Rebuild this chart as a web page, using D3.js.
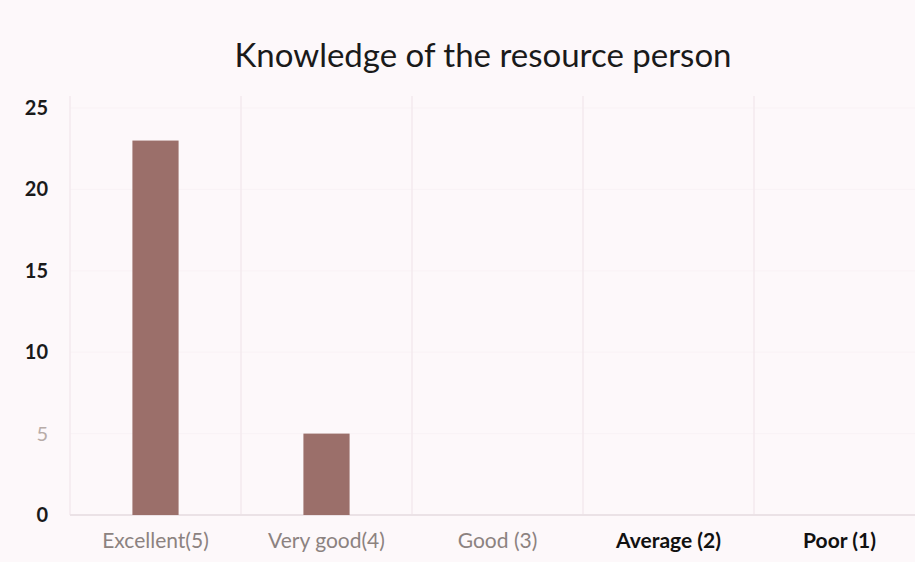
<!DOCTYPE html>
<html>
<head>
<meta charset="utf-8">
<script src="https://cdn.jsdelivr.net/npm/d3@7"></script>
<style>
  html, body { margin: 0; padding: 0; background: #fdf8fa; }
  svg { display: block; }
</style>
</head>
<body>
<svg id="chart" width="915" height="562"></svg>
<script>
const categories = ["Excellent(5)", "Very good(4)", "Good (3)", "Average (2)", "Poor (1)"];
const values = [23, 5, 0, 0, 0];
const yTicks = [0, 5, 10, 15, 20, 25];
const title = "Knowledge of the resource person";
const labelStyle = ["light", "light", "light", "bold", "bold"];

const svg = d3.select("#chart");
const W = 915, H = 562;
svg.append("rect").attr("width", W).attr("height", H).attr("fill", "#fdf8fa");

const x = d3.scaleBand().domain(categories).range([70, 925])
  .paddingInner(0.73).paddingOuter(0.365);
const y = d3.scaleLinear().domain([0, 25]).range([515, 108]);

// horizontal very faint gridlines
svg.append("g").selectAll("line").data(yTicks.slice(1)).join("line")
  .attr("x1", 70).attr("x2", 915)
  .attr("y1", d => y(d)).attr("y2", d => y(d))
  .attr("stroke", "#f9f2f5").attr("stroke-width", 1);

// vertical faint category boundaries
const step = x.step();
svg.append("g").selectAll("line").data(categories).join("line")
  .attr("x1", d => x(d) + x.bandwidth() / 2 - step / 2)
  .attr("x2", d => x(d) + x.bandwidth() / 2 - step / 2)
  .attr("y1", y(25) - 12).attr("y2", y(0))
  .attr("stroke", "#f3eaee").attr("stroke-width", 1.5);

// baseline
svg.append("line").attr("x1", 70).attr("x2", 915)
  .attr("y1", y(0)).attr("y2", y(0))
  .attr("stroke", "#ebe2e6").attr("stroke-width", 2);

// bars
svg.append("g").selectAll("rect").data(values).join("rect")
  .attr("x", (d, i) => x(categories[i]))
  .attr("width", x.bandwidth())
  .attr("y", d => y(d))
  .attr("height", d => y(0) - y(d))
  .attr("fill", "#9b6f6a");

// y axis tick labels
const yAxis = d3.axisLeft(y).tickValues(yTicks).tickSize(0).tickPadding(0);
const gy = svg.append("g").attr("transform", "translate(48,0)").call(yAxis);
gy.select(".domain").remove();
gy.selectAll("text")
  .attr("text-anchor", "end")
  .attr("x", 0)
  .attr("font-family", "Lato, 'Open Sans', sans-serif")
  .attr("font-size", 20)
  .attr("fill", d => d === 5 ? "#b8aca8" : "#1a1a1a")
  .style("font-weight", d => d === 5 ? "normal" : "bold");

// x axis labels
const xAxis = d3.axisBottom(x).tickSize(0).tickPadding(0);
const gx = svg.append("g").attr("transform", "translate(0,515)").call(xAxis);
gx.select(".domain").remove();
gx.selectAll("text")
  .attr("y", 18)
  .attr("font-family", "Lato, 'Open Sans', sans-serif")
  .attr("font-size", 21)
  .attr("fill", (d, i) => labelStyle[i] === "bold" ? "#111" : "#8c8280")
  .style("font-weight", (d, i) => labelStyle[i] === "bold" ? "bold" : "normal");

// title
svg.append("text").attr("x", 483).attr("y", 67)
  .attr("text-anchor", "middle")
  .attr("font-family", "Lato, 'Open Sans', sans-serif")
  .attr("font-size", 33).attr("fill", "#1a1a1a")
  .text(title);
</script>
</body>
</html>
